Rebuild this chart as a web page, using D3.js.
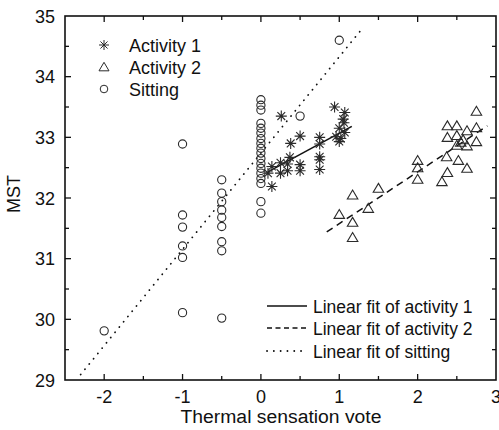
<!DOCTYPE html>
<html><head><meta charset="utf-8">
<script src="https://cdn.jsdelivr.net/npm/d3@7"></script>
<style>
html,body{margin:0;padding:0;background:#fff;}
svg text{font-family:"Liberation Sans",Arial,sans-serif;fill:#111;}
</style></head>
<body>
<svg id="chart" width="499" height="430"></svg>
<script>
// ---- data ----
const xTicks = [-2, -1, 0, 1, 2, 3];
const yTicks = [29, 30, 31, 32, 33, 34, 35];

const sittingX = [-2,
  -1, -1, -1, -1, -1, -1,
  -0.5, -0.5, -0.5, -0.5, -0.5, -0.5, -0.5, -0.5, -0.5,
  0, 0, 0, 0, 0, 0, 0, 0, 0, 0, 0, 0, 0, 0, 0, 0, 0, 0,
  0.5, 1];
const sittingY = [29.81,
  32.89, 31.72, 31.52, 31.21, 31.02, 30.11,
  32.30, 32.08, 31.94, 31.80, 31.68, 31.53, 31.28, 31.13, 30.02,
  33.62, 33.53, 33.45, 33.23, 33.15, 33.07, 32.98, 32.90, 32.82, 32.74, 32.65, 32.57, 32.49, 32.41, 32.32, 32.24, 31.94, 31.75,
  33.35, 34.60];

const act1X = [0.09, 0.14, 0.14, 0.25, 0.25, 0.26, 0.34, 0.34, 0.37, 0.38, 0.5, 0.5, 0.5,
  0.75, 0.75, 0.75, 0.75, 0.75, 0.94, 0.96, 1.0, 1.0, 1.02, 1.06, 1.07, 1.07, 1.05];
const act1Y = [32.41, 32.52, 32.19, 32.58, 32.41, 33.35, 32.56, 32.45, 32.67, 32.90, 33.02, 32.55, 32.45,
  33.00, 32.89, 32.68, 32.63, 32.47, 33.50, 33.01, 33.15, 32.93, 32.98, 33.24, 33.41, 33.08, 33.30];

const act2X = [1.0, 1.17, 1.17, 1.17, 1.37, 1.5, 2.0, 2.0, 2.0, 2.31, 2.37, 2.38, 2.38, 2.38,
  2.5, 2.5, 2.5, 2.52, 2.58, 2.63, 2.63, 2.63, 2.75, 2.75, 2.75, 2.55];
const act2Y = [31.73, 32.05, 31.60, 31.35, 31.83, 32.16, 32.62, 32.50, 32.31, 32.27, 32.68, 32.42, 33.19, 33.00,
  33.19, 33.03, 32.87, 32.62, 32.96, 33.11, 32.86, 32.49, 33.43, 33.16, 32.93, 32.92];

// fit line endpoints
const fitAct1X = [0.09, 1.16], fitAct1Y = [32.43, 33.18];
const fitAct2X = [0.84, 2.89], fitAct2Y = [31.44, 33.19];
const fitSitX = [-2.30, 1.31], fitSitY = [29.09, 34.82];

const legendTop = ["Activity 1", "Activity 2", "Sitting"];
const legendBottom = ["Linear fit of activity 1", "Linear fit of activity 2", "Linear fit of sitting"];

// ---- drawing ----
const svg = d3.select("#chart");
const L = 65, R = 496, T = 16, B = 380;
const x = d3.scaleLinear().domain([-2.5, 3]).range([L, R]);
const y = d3.scaleLinear().domain([29, 35]).range([B, T]);

const ink = "#111", mk = "#2a2a2a";

const xMinor = d3.range(-2.5, 3.01, 0.5);
const yMinor = d3.range(29, 35.01, 0.5);
function tickLen(v){ return Math.abs(v - Math.round(v)) < 1e-6 ? 6 : 4; }

// tick marks (inside, on all four sides)
const tg = svg.append("g").attr("stroke", ink).attr("stroke-width", 1.3);
xMinor.filter(v => v > -2.5 && v < 3).forEach(v => {
  const l = tickLen(v);
  tg.append("line").attr("x1", x(v)).attr("x2", x(v)).attr("y1", B).attr("y2", B - l);
  tg.append("line").attr("x1", x(v)).attr("x2", x(v)).attr("y1", T).attr("y2", T + l);
});
yMinor.filter(v => v > 29 && v < 35).forEach(v => {
  const l = tickLen(v);
  tg.append("line").attr("x1", L).attr("x2", L + l).attr("y1", y(v)).attr("y2", y(v));
  tg.append("line").attr("x1", R).attr("x2", R - l).attr("y1", y(v)).attr("y2", y(v));
});

// tick labels
svg.append("g").selectAll("text").data(xTicks).join("text")
  .attr("x", d => x(d)).attr("y", 403).attr("text-anchor", "middle")
  .attr("font-size", 18).text(d => d);
svg.append("g").selectAll("text").data(yTicks).join("text")
  .attr("x", 55).attr("y", d => y(d) + 6.5).attr("text-anchor", "end")
  .attr("font-size", 18).text(d => d);

// axis titles
svg.append("text").attr("x", 281).attr("y", 423).attr("text-anchor", "middle")
  .attr("font-size", 18).attr("textLength", 201).attr("lengthAdjust", "spacingAndGlyphs")
  .text("Thermal sensation vote");
svg.append("text").attr("transform", "translate(20,194) rotate(-90)").attr("text-anchor", "middle")
  .attr("font-size", 18).text("MST");

// frame
svg.append("rect").attr("x", L).attr("y", T).attr("width", R - L).attr("height", B - T)
  .attr("fill", "none").attr("stroke", ink).attr("stroke-width", 1.6);

// fit lines
const line = d3.line().x(d => x(d[0])).y(d => y(d[1]));
function fit(xs, ys, dash, w){
  svg.append("path").datum(d3.zip(xs, ys)).attr("d", line)
    .attr("fill", "none").attr("stroke", ink).attr("stroke-width", w)
    .attr("stroke-dasharray", dash).attr("stroke-linecap", dash === "0.1,6.7" ? "round" : "butt");
}
fit(fitSitX, fitSitY, "0.1,6.7", 1.8);
fit(fitAct1X, fitAct1Y, null, 1.6);
fit(fitAct2X, fitAct2Y, "7,5", 1.5);

// markers
const starPath = (r) => {
  const a = r * Math.SQRT1_2;
  return `M${-r},0L${r},0M0,${-r}L0,${r}M${-a},${-a}L${a},${a}M${-a},${a}L${a},${-a}`;
};
const triPath = (w) => {
  const h = w * 0.85;
  return `M0,${-h * 0.55}L${w / 2},${h * 0.45}L${-w / 2},${h * 0.45}Z`;
};

svg.append("g").selectAll("circle").data(d3.zip(sittingX, sittingY)).join("circle")
  .attr("cx", d => x(d[0])).attr("cy", d => y(d[1])).attr("r", 4.1)
  .attr("fill", "none").attr("stroke", mk).attr("stroke-width", 1.1);

svg.append("g").selectAll("path").data(d3.zip(act1X, act1Y)).join("path")
  .attr("transform", d => `translate(${x(d[0])},${y(d[1])})`).attr("d", starPath(5.5))
  .attr("fill", "none").attr("stroke", mk).attr("stroke-width", 1.1);

svg.append("g").selectAll("path").data(d3.zip(act2X, act2Y)).join("path")
  .attr("transform", d => `translate(${x(d[0])},${y(d[1])})`).attr("d", triPath(10.5))
  .attr("fill", "none").attr("stroke", mk).attr("stroke-width", 1.1);

// top-left legend
const lgY = [45, 67, 89];
const lg = svg.append("g");
lg.append("path").attr("transform", `translate(104,${lgY[0]})`).attr("d", starPath(5))
  .attr("fill", "none").attr("stroke", mk).attr("stroke-width", 1);
lg.append("path").attr("transform", `translate(104,${lgY[1]})`).attr("d", triPath(10))
  .attr("fill", "none").attr("stroke", mk).attr("stroke-width", 1);
lg.append("circle").attr("cx", 104).attr("cy", lgY[2]).attr("r", 3.8)
  .attr("fill", "none").attr("stroke", mk).attr("stroke-width", 1);
lg.selectAll("text").data(legendTop).join("text")
  .attr("x", 129).attr("y", (d, i) => lgY[i] + 6.5).attr("font-size", 18).text(d => d);

// bottom-right legend
const lbY = [306, 328, 351];
const dashes = [null, "5,3.5", "0.1,6.7"];
const lb = svg.append("g");
lbY.forEach((yy, i) => {
  lb.append("line").attr("x1", 267).attr("x2", 307).attr("y1", yy).attr("y2", yy)
    .attr("stroke", ink).attr("stroke-width", i === 2 ? 1.8 : 1.4)
    .attr("stroke-dasharray", dashes[i]).attr("stroke-linecap", i === 2 ? "round" : "butt");
});
lb.selectAll("text").data(legendBottom).join("text")
  .attr("x", 313).attr("y", (d, i) => lbY[i] + 6.5).attr("font-size", 17.5).text(d => d);
</script>
</body></html>
